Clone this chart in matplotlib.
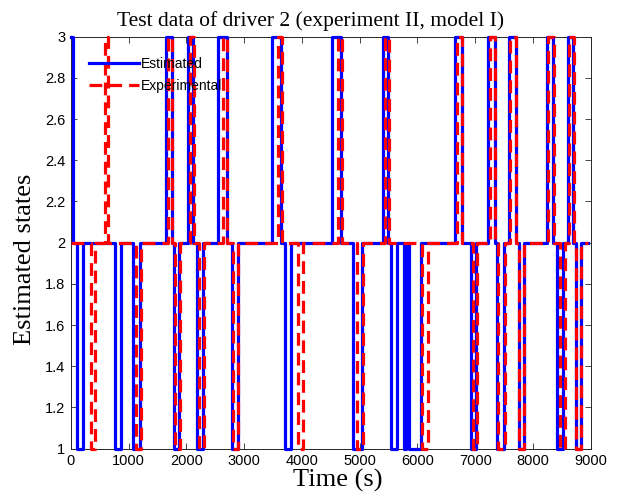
import matplotlib
matplotlib.use("Agg")
import matplotlib.pyplot as plt
import numpy as np

# Estimated states (blue): change times (s) and state after each change
est_t = [0, 30, 100, 210, 770, 870, 1070, 1190, 1650, 1745, 1790, 1880,
         2020, 2115, 2180, 2290, 2545, 2700, 2790, 2890, 3490, 3640, 3710, 3815,
         4520, 4685, 4890, 5040, 5410, 5495, 5540, 5640, 5760, 5800, 5850, 6060,
         6650, 6770, 6920, 7010, 7230, 7340, 7380, 7500, 7580, 7700, 7750, 7840,
         8240, 8350, 8415, 8520, 8610, 8700, 8740, 8830, 8950]
est_s = [3, 2, 1, 2, 1, 2, 1, 2, 3, 2, 1, 2,
         3, 2, 1, 2, 3, 2, 1, 2, 3, 2, 1, 2,
         3, 2, 1, 2, 3, 2, 1, 2, 1, 2, 1, 2,
         3, 2, 1, 2, 3, 2, 1, 2, 3, 2, 1, 2,
         3, 2, 1, 2, 3, 2, 1, 2, 2]

# Experimental states (red)
exp_t = [0, 340, 420, 590, 650, 1120, 1210, 1680, 1745, 1810, 1890,
         2060, 2130, 2210, 2300, 2640, 2705, 2800, 2900, 3590, 3650, 3930, 4020,
         4620, 4690, 4950, 5050, 5430, 5500, 6080, 6180,
         6690, 6780, 6960, 7030, 7260, 7350, 7400, 7520, 7610, 7710, 7760, 7850,
         8260, 8360, 8460, 8560, 8630, 8710, 8750, 8840, 8950]
exp_s = [2, 1, 2, 3, 2, 1, 2, 3, 2, 1, 2,
         3, 2, 1, 2, 3, 2, 1, 2, 3, 2, 1, 2,
         3, 2, 1, 2, 3, 2, 1, 2,
         3, 2, 1, 2, 3, 2, 1, 2, 3, 2, 1, 2,
         3, 2, 1, 2, 3, 2, 1, 2, 2]

x_ticks = [0, 1000, 2000, 3000, 4000, 5000, 6000, 7000, 8000, 9000]
y_ticks = [1, 1.2, 1.4, 1.6, 1.8, 2, 2.2, 2.4, 2.6, 2.8, 3]
y_tick_labels = ["1", "1.2", "1.4", "1.6", "1.8", "2", "2.2", "2.4", "2.6", "2.8", "3"]

fig = plt.figure(figsize=(6.22, 4.96), dpi=100)
ax = fig.add_axes([0.114, 0.0954, 0.8357, 0.8306])

ax.plot(est_t, est_s, drawstyle="steps-post", color=(0, 0, 1), lw=2.3,
        label="Estimated", clip_on=False, zorder=3)
ax.plot(exp_t, exp_s, drawstyle="steps-post", color=(1, 0, 0), lw=2.3,
        linestyle=(0, (4, 2.2)), label="Experimental", clip_on=False, zorder=4)

ax.set_xlim(0, 9000)
ax.set_ylim(1, 3)
ax.set_xticks(x_ticks)
ax.set_yticks(y_ticks)
ax.set_yticklabels(y_tick_labels)

tick_font = "Liberation Sans"
for lab in ax.get_xticklabels() + ax.get_yticklabels():
    lab.set_fontfamily(tick_font)
    lab.set_fontsize(10.5)

ax.tick_params(direction="in", top=True, right=True, length=4, width=0.6,
               color=(0.15, 0.15, 0.15), pad=4)
for sp in ax.spines.values():
    sp.set_color((0.15, 0.15, 0.15))
    sp.set_linewidth(0.7)

ax.set_title("Test data of driver 2 (experiment II, model I)",
             fontfamily="Liberation Serif", fontsize=15.5, pad=8, x=0.462)
ax.set_xlabel("Time (s)", fontfamily="Liberation Serif", fontsize=19, va="center")
ax.xaxis.set_label_coords(0.513, -0.077)
ax.set_ylabel("Estimated states", fontfamily="Liberation Serif", fontsize=19,
              va="center", ha="center")
ax.yaxis.set_label_coords(-0.088, 0.459)

leg = ax.legend(loc="upper left", frameon=False, prop={"family": "Liberation Sans", "size": 10},
                handlelength=3.6, handletextpad=0.1, borderaxespad=0.0,
                labelspacing=0.6, bbox_to_anchor=(0.025, 0.965))

fig.savefig("out.png", dpi=100)
